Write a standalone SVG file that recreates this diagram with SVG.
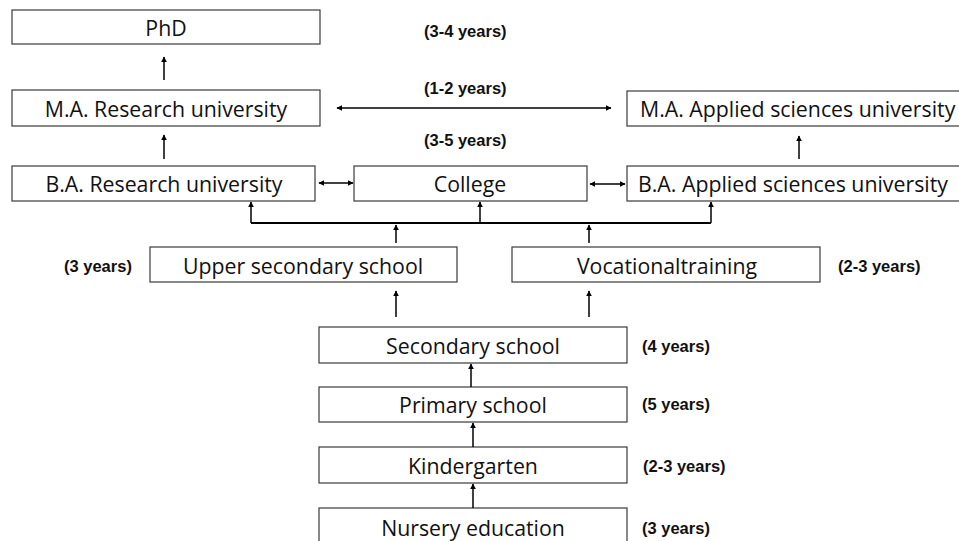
<svg xmlns="http://www.w3.org/2000/svg" width="959" height="541" viewBox="0 0 959 541">
<defs>
<marker id="ah" viewBox="0 0 10 10" refX="9" refY="5" markerWidth="6" markerHeight="6" markerUnits="userSpaceOnUse" orient="auto-start-reverse">
<path d="M0,0 L10,5 L0,10 z" fill="#000"/>
</marker>
<style>
.box{fill:#fff;stroke:#3a3a3a;stroke-width:1.2}
.t{font-family:"Open Sans","Liberation Sans",Arial,sans-serif;font-size:21.3px;fill:#111;text-anchor:middle;dominant-baseline:central}
.ts{text-anchor:start}
.l{font-family:"Liberation Sans",Arial,sans-serif;font-size:16.5px;font-weight:bold;fill:#111;dominant-baseline:central}
.c{fill:none;stroke:#000;stroke-width:1.5}
.a{marker-end:url(#ah)}
.d{marker-start:url(#ah);marker-end:url(#ah)}
</style>
</defs>
<rect width="959" height="541" fill="#fff"/>
<g id="phd"><rect class="box" x="12" y="10" width="308" height="34"/><text class="t" x="166" y="27">PhD</text></g>
<g id="ma-research"><rect class="box" x="12" y="90" width="308" height="36"/><text class="t" x="166" y="108">M.A. Research university</text></g>
<g id="ma-applied"><rect class="box" x="627" y="91" width="340" height="35"/><text class="t ts" x="640" y="108">M.A. Applied sciences university</text></g>
<g id="ba-research"><rect class="box" x="12" y="166" width="303" height="35"/><text class="t" x="164" y="183">B.A. Research university</text></g>
<g id="college"><rect class="box" x="354" y="166" width="233" height="35"/><text class="t" x="470" y="183">College</text></g>
<g id="ba-applied"><rect class="box" x="627" y="166" width="340" height="35"/><text class="t ts" x="638" y="183">B.A. Applied sciences university</text></g>
<g id="upper-secondary"><rect class="box" x="150" y="247" width="307" height="35"/><text class="t" x="303" y="265">Upper secondary school</text></g>
<g id="vocational"><rect class="box" x="512" y="247" width="308" height="35"/><text class="t" x="667" y="265" word-spacing="-5.5">Vocational training</text></g>
<g id="secondary"><rect class="box" x="319" y="327" width="308" height="36"/><text class="t" x="473" y="345">Secondary school</text></g>
<g id="primary"><rect class="box" x="319" y="387" width="308" height="35"/><text class="t" x="473" y="404">Primary school</text></g>
<g id="kindergarten"><rect class="box" x="319" y="447" width="308" height="36"/><text class="t" x="473" y="465">Kindergarten</text></g>
<g id="nursery"><rect class="box" x="319" y="508" width="308" height="40"/><text class="t" x="473" y="527">Nursery education</text></g>
<g id="labels">
<text class="l" x="424" y="31">(3-4 years)</text>
<text class="l" x="424" y="88">(1-2 years)</text>
<text class="l" x="424" y="140">(3-5 years)</text>
<text class="l" x="64" y="266">(3 years)</text>
<text class="l" x="838" y="266">(2-3 years)</text>
<text class="l" x="642" y="346">(4 years)</text>
<text class="l" x="642" y="404">(5 years)</text>
<text class="l" x="643" y="466">(2-3 years)</text>
<text class="l" x="642" y="528">(3 years)</text>
</g>
<g id="connectors">
<line class="c a" x1="164" y1="80" x2="164" y2="57"/>
<line class="c a" x1="164" y1="159" x2="164" y2="135"/>
<line class="c a" x1="799" y1="159" x2="799" y2="136"/>
<line class="c d" x1="337" y1="108" x2="611" y2="108"/>
<line class="c d" x1="319" y1="183" x2="353" y2="183"/>
<line class="c d" x1="590" y1="184" x2="625" y2="184"/>
<line class="c" x1="251" y1="223" x2="711" y2="223" style="stroke-width:2"/>
<line class="c a" x1="251" y1="223" x2="251" y2="202"/>
<line class="c a" x1="480" y1="223" x2="480" y2="202"/>
<line class="c a" x1="711" y1="223" x2="711" y2="202"/>
<line class="c a" x1="396" y1="243" x2="396" y2="225"/>
<line class="c a" x1="589" y1="243" x2="589" y2="225"/>
<line class="c a" x1="396" y1="317" x2="396" y2="291"/>
<line class="c a" x1="589" y1="317" x2="589" y2="291"/>
<line class="c a" x1="471" y1="387" x2="471" y2="364"/>
<line class="c a" x1="473" y1="447" x2="473" y2="423"/>
<line class="c a" x1="473" y1="508" x2="473" y2="484"/>
</g>
</svg>
